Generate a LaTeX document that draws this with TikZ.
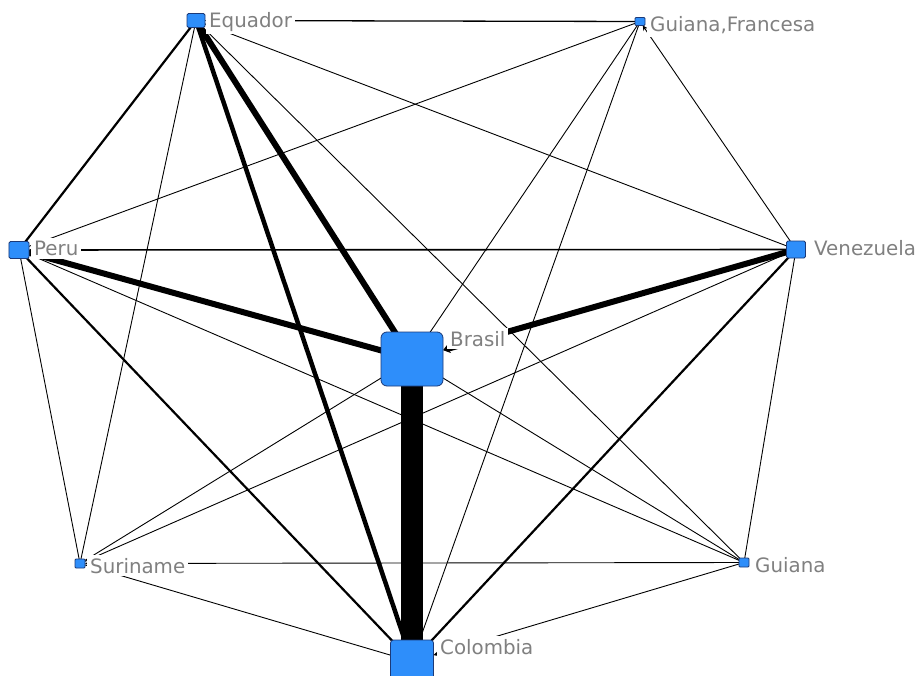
\documentclass[tikz,border=0pt]{standalone}
\usepackage{fontspec}
\setmainfont{DejaVu Sans}
\usetikzlibrary{arrows.meta}
\definecolor{nodeblue}{RGB}{46,142,250}
\definecolor{nodeedge}{RGB}{28,58,120}
\definecolor{labelgray}{RGB}{128,128,128}
\pgfdeclarelayer{paper}
\pgfdeclarelayer{edges}
\pgfsetlayers{paper,edges,main}
\begin{document}
\begin{tikzpicture}[x=1bp,y=-1bp,
  actor/.style={rectangle, draw=nodeedge, line width=0.8bp, fill=nodeblue,
    inner sep=0pt, outer sep=0pt},
  tag/.style={anchor=base west, fill=white, inner sep=3bp, text=labelgray,
    font=\fontsize{19.9}{21}\selectfont},
  tie/.style={draw=black, line width=#1},
  tie/.default=0.9bp,
  tip/.style={-{Stealth[length=5bp,width=5bp]}}]
\begin{pgfonlayer}{paper}
  \fill[white] (0,0) rectangle (919,676);
\end{pgfonlayer}
\useasboundingbox (0,0) rectangle (919,676);

% countries
\node[actor, minimum width=18bp, minimum height=14bp, rounded corners=1.5bp] (equ) at (196,20.5) {};
\node[actor, minimum width=10bp, minimum height=8bp, rounded corners=1bp] (gf) at (640,21.5) {};
\node[actor, minimum width=20bp, minimum height=17bp, rounded corners=1.5bp] (per) at (19,250) {};
\node[actor, minimum width=19bp, minimum height=17bp, rounded corners=1.5bp] (ven) at (796,249.5) {};
\node[actor, minimum width=62bp, minimum height=54bp, rounded corners=6bp] (bra) at (412,359) {};
\node[actor, minimum width=10bp, minimum height=9bp, rounded corners=1bp] (sur) at (80,563.5) {};
\node[actor, minimum width=10bp, minimum height=9bp, rounded corners=1bp] (gui) at (744,562.5) {};
\node[actor, minimum width=43bp, minimum height=43bp, rounded corners=3bp] (col) at (412,661.5) {};

% ties between countries
\begin{pgfonlayer}{edges}
  % thin ties
  \draw[tie] (equ.center) -- (sur.center);
  \draw[tie] (equ.center) -- (ven.center);
  \draw[tie] (equ.center) -- (gui.center);
  \draw[tie] (gf.center) -- (per.center);
  \draw[tie] (gf.center) -- (bra.center);
  \draw[tie] (gf.center) -- (col.center);
  \draw[tie, tip] (ven.center) -- (gf);
  \draw[tie] (per.center) -- (gui.center);
  \draw[tie] (per.center) -- (sur.center);
  \draw[tie] (ven.center) -- (sur.center);
  \draw[tie] (ven.center) -- (gui.center);
  \draw[tie] (bra.center) -- (sur.center);
  \draw[tie] (bra.center) -- (gui.center);
  \draw[tie] (col.center) -- (sur.center);
  \draw[tie, tip] (gui.center) -- (col);
  \draw[tie, tip] (gui.center) -- (sur);
  % medium ties
  \draw[tie=1.3bp, tip] (gf.center) -- (equ);
  \draw[tie=1.6bp, tip] (ven.center) -- (per);
  \draw[tie=2.2bp] (equ.center) -- (per.center);
  \draw[tie=2.2bp] (per.center) -- (col.center);
  \draw[tie=2.2bp] (ven.center) -- (col.center);
  % heavy ties
  \draw[tie=4.5bp] (equ.center) -- (col.center);
  \draw[tie=6bp] (equ.center) -- (bra.center);
  \draw[tie=6bp] (per.center) -- (bra.center);
  \draw[tie=6bp, -{Stealth[length=7bp,width=10bp]}] (ven.center) -- (bra);
  \draw[tie=22bp] (bra.center) -- (col.center);
\end{pgfonlayer}

% country names
\node[tag] (equT) at (206,27.2) {Equador};
\node[tag] (gfT)  at (647,31.5) {Guiana,Francesa};
\node[tag] (perT) at (31,255.5) {Peru};
\node[tag] (venT) at (811,255) {Venezuela};
\node[tag] (braT) at (447,346) {Brasil};
\node[tag] (surT) at (87,573) {Suriname};
\node[tag] (guiT) at (752,572) {Guiana};
\node[tag] (colT) at (437,654) {Colombia};
\end{tikzpicture}
\end{document}
